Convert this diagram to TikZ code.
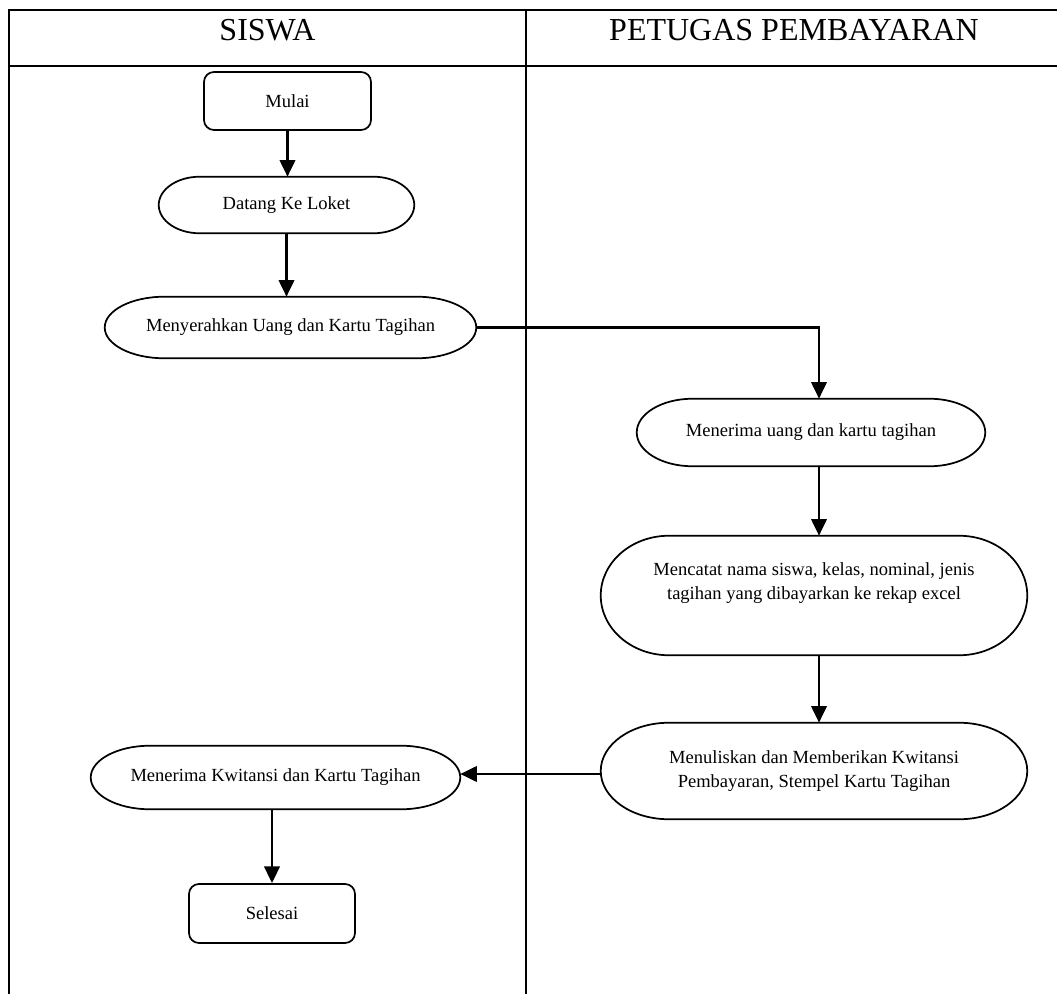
\documentclass[tikz,border=0pt]{standalone}
\usepackage{fontspec}
\setmainfont{Liberation Serif}
\usetikzlibrary{calc,arrows.meta}

% Outline of a flowchart terminator drawn round the bounds of a node
\newcommand\termline[1]{%
  \draw[boxline] let \p1=(#1.south west), \p2=(#1.north east),
      \n1={0.16*(\x2-\x1)}, \n2={0.5*(\y2-\y1)} in
    (\x1+\n1,\y2) -- (\x2-\n1,\y2)
    arc[start angle=90, end angle=-90, x radius=\n1, y radius=\n2]
    -- (\x1+\n1,\y1)
    arc[start angle=-90, end angle=-270, x radius=\n1, y radius=\n2]
    -- cycle;}

\begin{document}
\begin{tikzpicture}[x=0.75pt,y=-0.75pt,
  lane/.style={line width=1.7pt},
  boxline/.style={line width=1.3pt},
  txt/.style={font=\fontsize{13.9}{18}\selectfont, align=center, inner sep=0pt},
  head/.style={font=\fontsize{24}{28}\selectfont, inner sep=0pt, anchor=base},
  sz/.style 2 args={minimum width=#1*0.75pt, minimum height=#2*0.75pt},
  startbox/.style={txt, draw, boxline, rounded corners=7.5pt},
  arr/.style={line width=2.1pt, -{Triangle[length=12.5pt,width=11.5pt]}}]
\useasboundingbox (0,0) rectangle (1057,994);

% swimlane frame
\draw[lane] (9,994) -- (9,10) -- (1057,10);
\draw[lane] (9,66) -- (1057,66);
\draw[lane] (526,10) -- (526,994);
\node[head] (hsiswa) at (267.5,41) {SISWA};
\node[head] (hpetugas) at (794,41) {PETUGAS PEMBAYARAN};

% SISWA lane
\node[startbox, sz={167}{58}] (mulai) at (287.5,101) {Mulai};
\node[txt, sz={255}{56}] (datang) at (286.5,205) {Datang Ke Loket};
\node[txt, sz={371}{61}] (serah) at (290.5,327.5) {Menyerahkan Uang dan Kartu Tagihan};
\node[txt, sz={369}{63}] (kwit) at (275.5,777.5) {Menerima Kwitansi dan Kartu Tagihan};
\node[startbox, sz={166}{59}] (selesai) at (272,913.5) {Selesai};

% PETUGAS PEMBAYARAN lane
\node[txt, sz={348}{67}] (terima) at (811,432.5) {Menerima uang dan kartu tagihan};
\node[txt, sz={426}{119}] (catat) at (814,595.5) {};
\node[txt] (catattext) at (814,583) {Mencatat nama siswa, kelas, nominal, jenis\\tagihan yang dibayarkan ke rekap excel};
\node[txt, sz={426}{96}] (tulis) at (814,771) {Menuliskan dan Memberikan Kwitansi\\Pembayaran, Stempel Kartu Tagihan};

\termline{datang}
\termline{serah}
\termline{kwit}
\termline{terima}
\termline{catat}
\termline{tulis}

% connectors
\coordinate (col) at (819,0);
\coordinate (rowk) at (0,774);
\draw[arr] (mulai.south) -- (mulai.south |- datang.north);
\draw[arr] (datang.south) -- (datang.south |- serah.north);
\draw[arr] (serah.east) -| (terima.north -| col);
\draw[arr] (terima.south -| col) -- (catat.north -| col);
\draw[arr] (catat.south -| col) -- (tulis.north -| col);
\draw[arr] (tulis.west |- rowk) -- (kwit.east |- rowk);
\draw[arr] (kwit.south -| selesai.north) -- (selesai.north);
\end{tikzpicture}
\end{document}
